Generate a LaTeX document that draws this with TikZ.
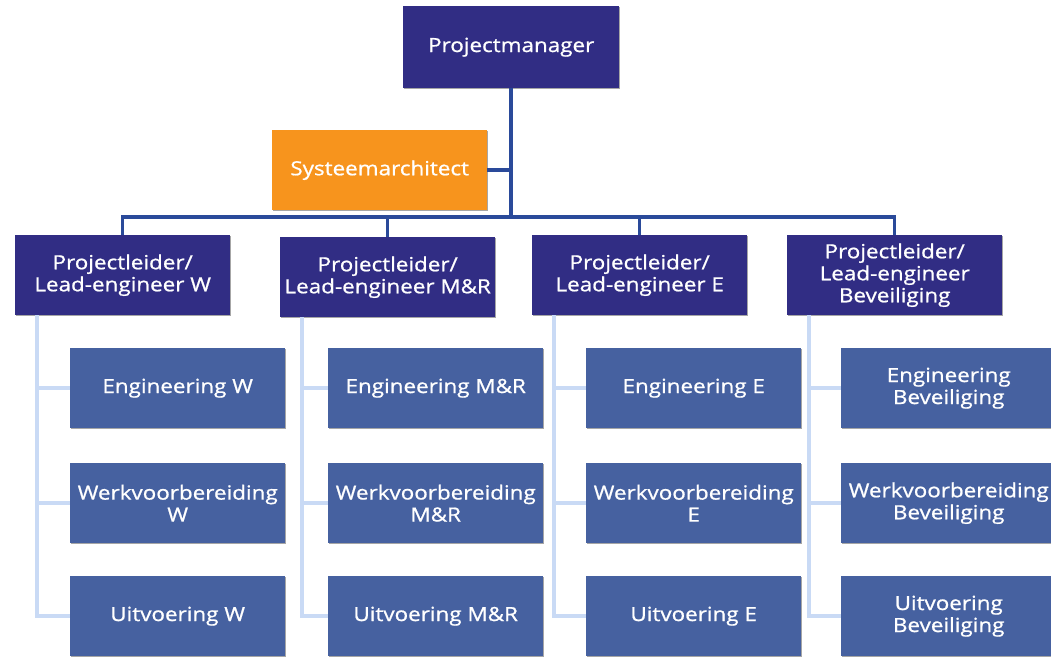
\documentclass[tikz,border=0pt]{standalone}
\usepackage{fontspec}
\setmainfont{Open Sans}[FakeStretch=1.15, FakeBold=0.9]
\usetikzlibrary{shadows}
\definecolor{navy}{HTML}{312D84}
\definecolor{steel}{HTML}{4661A0}
\definecolor{orangebox}{HTML}{F7941D}
\definecolor{mainline}{HTML}{2A4A9A}
\definecolor{subline}{HTML}{C9DAF5}
\begin{document}
\begin{tikzpicture}[x=1pt,y=-1pt,
  box/.style={anchor=north west, minimum width=215pt, minimum height=80pt, inner sep=0pt,
    text=white, align=center, font=\fontsize{19.5}{22}\selectfont,
    drop shadow={shadow xshift=1.2pt, shadow yshift=-1.2pt, opacity=0.35, fill=black}},
  topbox/.style={box, fill=navy},
  archbox/.style={box, fill=orangebox},
  leadbox/.style={box, fill=navy},
  subbox/.style={box, fill=steel},
  mainconn/.style={draw=mainline, line width=3.5pt},
  subconn/.style={draw=subline, line width=3.5pt}]
\useasboundingbox (0,0) rectangle (1051,658);
\clip (0,0) rectangle (1051,658);
\fill[white] (0,0) rectangle (1051,658);

\coordinate (bar) at (0,217);

\node[topbox, minimum width=216pt, minimum height=82pt] (pm) at (403,6) {Projectmanager};
\node[archbox] (sys) at (272,130) {Systeemarchitect};

\node[leadbox] (lw) at (15,235) {Projectleider/\\Lead-engineer W};
\node[leadbox] (lmr) at (280,237) {Projectleider/\\Lead-engineer M\&R};
\node[leadbox] (le) at (532,235) {Projectleider/\\Lead-engineer E};
\node[leadbox] (lb) at (787,235) {Projectleider/\\Lead-engineer\\Beveiliging};

\node[subbox] (ew) at (70,348) {Engineering W};
\node[subbox] (ww) at (70,463) {Werkvoorbereiding\\W};
\node[subbox] (uw) at (70,576) {Uitvoering W};

\node[subbox] (emr) at (328,348) {Engineering M\&R};
\node[subbox] (wmr) at (328,463) {Werkvoorbereiding\\M\&R};
\node[subbox] (umr) at (328,576) {Uitvoering M\&R};

\node[subbox] (ee) at (586,348) {Engineering E};
\node[subbox] (we) at (586,463) {Werkvoorbereiding\\E};
\node[subbox] (ue) at (586,576) {Uitvoering E};

\node[subbox] (eb) at (841,348) {Engineering\\Beveiliging};
\node[subbox] (wb) at (841,463) {Werkvoorbereiding\\Beveiliging};
\node[subbox] (ub) at (841,576) {Uitvoering\\Beveiliging};

% main connectors
\draw[mainconn] (pm.south) -- (pm.south |- bar);
\draw[mainconn] (sys.east) -- (sys.east -| pm.south);
\draw[mainconn] (lw.north) -- (lw.north |- bar) -- (lb.north |- bar) -- (lb.north);
\draw[mainconn] (lmr.north) -- (lmr.north |- bar);
\draw[mainconn] (le.north) -- (le.north |- bar);

% sub connectors
\foreach \l/\e/\w/\u in {lw/ew/ww/uw, lmr/emr/wmr/umr, le/ee/we/ue, lb/eb/wb/ub}{
  \coordinate (sp) at ([xshift=22pt]\l.south west);
  \draw[subconn] (sp) |- (\u.west);
  \draw[subconn] (sp |- \e.west) -- (\e.west);
  \draw[subconn] (sp |- \w.west) -- (\w.west);
}
\end{tikzpicture}
\end{document}
